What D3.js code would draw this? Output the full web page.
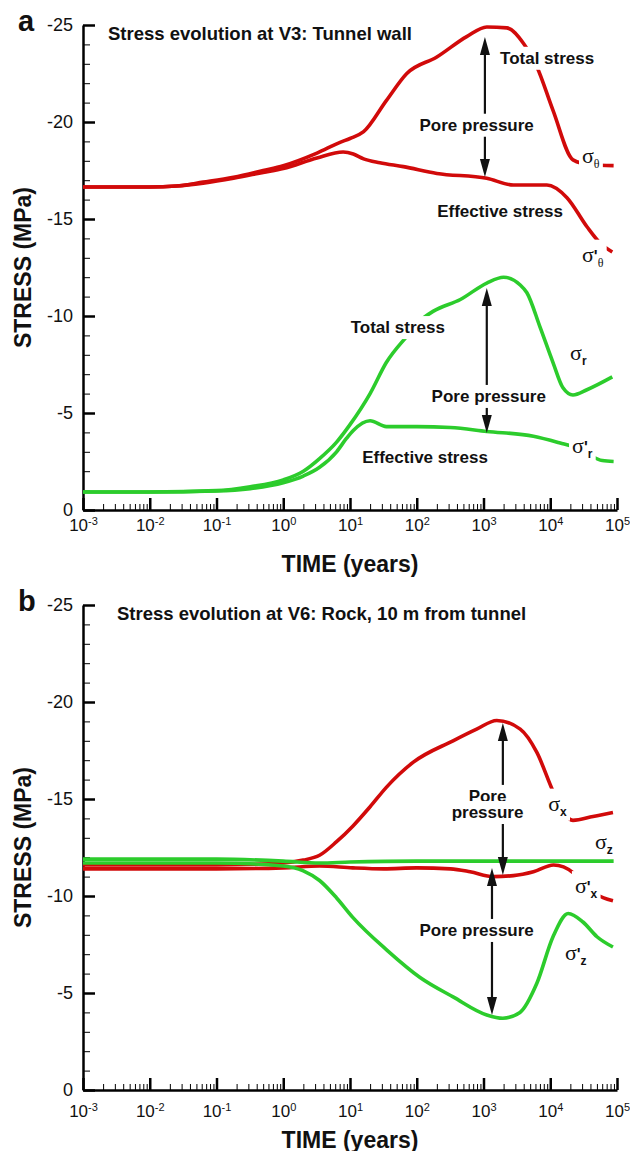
<!DOCTYPE html>
<html lang="en">
<head>
<meta charset="UTF-8">
<title>Stress evolution at V3 and V6</title>
<script src="https://cdn.jsdelivr.net/npm/d3@7"></script>
<style>
  body { margin: 0; background: #fff; }
  svg { font-family: Arial, "Liberation Sans", sans-serif; }
  .curve { fill: none; stroke-width: 3.6; stroke-linejoin: round; }
  .lbl { font-weight: bold; font-size: 17px; fill: #111; }
  .axis-title { font-weight: bold; font-size: 23px; fill: #111; }
  .plot-title { font-weight: bold; font-size: 18.5px; fill: #111; }
  .panel-letter { font-weight: bold; font-size: 29px; fill: #111; }
</style>
</head>
<body>
<svg id="chart" width="630" height="1151"></svg>
<script>
// ---- data (time in years, stress in MPa; compression negative) ----
const decades = [1e-3, 1e-2, 1e-1, 1e0, 1e1, 1e2, 1e3, 1e4, 1e5];
const yMajor = [0, -5, -10, -15, -20, -25];

// panel a: V3, tunnel wall
const tThetaTot = [0.001, 0.01, 0.025, 0.063, 0.18, 0.5, 1, 3.2, 7.1, 10, 16, 35, 71, 200, 560, 1120, 2240, 3980, 6300, 11000, 21900, 39800, 89000];
const thetaTot  = [-16.65, -16.65, -16.7, -16.9, -17.15, -17.5, -17.75, -18.4, -18.95, -19.15, -19.5, -21.1, -22.5, -23.35, -24.4, -24.9, -24.85, -24.05, -22.85, -20.6, -18.05, -17.8, -17.75];
const tThetaEff = [0.001, 0.01, 0.025, 0.063, 0.18, 0.5, 1, 3.2, 7.9, 11.2, 16, 28, 63, 200, 1120, 2800, 8900, 17800, 35500, 56200, 85000];
const thetaEff  = [-16.65, -16.65, -16.7, -16.85, -17.1, -17.4, -17.6, -18.15, -18.45, -18.35, -18.1, -17.9, -17.7, -17.35, -17.1, -16.75, -16.75, -16.1, -14.6, -13.75, -13.3];
const tRadTot = [0.001, 0.01, 0.1, 0.32, 1, 2, 3.5, 6.3, 10, 20, 35, 71, 112, 178, 450, 1120, 2000, 3550, 4470, 7080, 11000, 15500, 21900, 35500, 85000];
const radTot  = [-0.93, -0.93, -1.0, -1.2, -1.55, -2.0, -2.65, -3.5, -4.4, -6.0, -7.6, -8.95, -9.75, -10.25, -10.85, -11.7, -12.0, -11.6, -11.2, -9.4, -7.6, -6.3, -5.93, -6.2, -6.86];
const tRadEff = [0.001, 0.01, 0.1, 0.32, 1, 2, 3.5, 6.3, 8.9, 11.2, 20, 35, 100, 320, 1120, 5600, 14100, 22400, 35500, 60300, 89000];
const radEff  = [-0.93, -0.93, -0.98, -1.1, -1.4, -1.75, -2.2, -3.0, -3.7, -4.1, -4.6, -4.3, -4.3, -4.25, -4.05, -3.8, -3.45, -3.25, -2.9, -2.55, -2.5];

// panel b: V6, rock 10 m from tunnel
const tXTot = [0.001, 0.01, 0.1, 1, 2, 3.5, 6.3, 11, 20, 35, 89, 350, 790, 1580, 3550, 6300, 11000, 15800, 21900, 43700, 87000];
const xTot  = [-11.6, -11.6, -11.6, -11.7, -11.85, -12.1, -12.8, -13.6, -14.6, -15.6, -16.9, -18.0, -18.6, -19.05, -18.6, -17.4, -15.4, -14.3, -13.9, -14.1, -14.3];
const tXEff = [0.001, 0.1, 1, 3.5, 11, 32, 100, 320, 630, 1410, 2800, 5600, 11200, 15800, 21900, 35500, 63100, 87000];
const xEff  = [-11.4, -11.4, -11.45, -11.55, -11.45, -11.4, -11.45, -11.4, -11.25, -11.0, -11.05, -11.25, -11.6, -11.5, -11.2, -10.4, -9.9, -9.75];
const tZTot = [0.001, 0.1, 1, 3.5, 10, 100, 1000, 10000, 89000];
const zTot  = [-11.9, -11.9, -11.8, -11.7, -11.75, -11.8, -11.8, -11.8, -11.8];
const tZEff = [0.001, 0.1, 1, 2, 3.5, 6.3, 11, 36, 112, 350, 1120, 1950, 3520, 6300, 11000, 18600, 30900, 50100, 87000];
const zEff  = [-11.7, -11.7, -11.55, -11.3, -10.8, -9.9, -8.9, -7.2, -5.8, -4.8, -3.87, -3.7, -4.0, -5.5, -7.9, -9.1, -8.66, -7.9, -7.37];

// pore pressure arrows: time, upper stress, lower stress
const arrowTimeA = [1050, 1120];
const arrowTopA = [-24.38, -11.44];
const arrowBotA = [-17.16, -3.97];
const arrowTimeB = [1950, 1340];
const arrowTopB = [-18.92, -11.44];
const arrowBotB = [-11.08, -3.87];

const red = "#d10a0a", green = "#2ccc2c";

const svg = d3.select("#chart");
const x = d3.scaleLog().domain([1e-3, 1e5]).range([83, 617]);

function panel(cfg) {
  const y = d3.scaleLinear().domain([0, -25]).range([cfg.bottom, cfg.top]);
  const g = svg.append("g");

  // minor ticks
  const minorY = d3.range(0, -26, -1).filter(v => v % 5 !== 0);
  g.append("g").attr("transform", "translate(83,0)")
    .call(d3.axisLeft(y).tickValues(minorY).tickSize(-7).tickFormat(""))
    .call(s => s.select(".domain").remove())
    .selectAll("line").attr("stroke-width", 1);
  const minorX = [];
  decades.slice(0, -1).forEach(d => { for (let k = 2; k <= 9; k++) minorX.push(d * k); });
  g.append("g").attr("transform", `translate(0,${cfg.bottom})`)
    .call(d3.axisBottom(x).tickValues(minorX).tickSize(-6).tickFormat(""))
    .call(s => s.select(".domain").remove())
    .selectAll("line").attr("stroke-width", 1);

  // major axes
  const gy = g.append("g").attr("transform", "translate(83,0)")
    .call(d3.axisLeft(y).tickValues(yMajor).tickSize(-12).tickSizeOuter(0).tickPadding(10)
      .tickFormat(d => String(d)));
  gy.selectAll("line").attr("stroke-width", 2.5);
  gy.select(".domain").attr("stroke-width", 2.5);
  gy.selectAll("text").attr("font-size", 18).attr("font-family", "Arial, 'Liberation Sans', sans-serif").attr("fill", "#111");

  const gx = g.append("g").attr("transform", `translate(0,${cfg.bottom})`)
    .call(d3.axisBottom(x).tickValues(decades).tickSize(-12).tickSizeOuter(0).tickPadding(cfg.xPad));
  gx.selectAll("line").attr("stroke-width", 2.5);
  gx.select(".domain").attr("stroke-width", 2.5);
  gx.selectAll(".tick text").each(function(d) {
    const t = d3.select(this).text(null)
      .attr("font-size", 17).attr("font-family", "Arial, 'Liberation Sans', sans-serif").attr("fill", "#111");
    t.append("tspan").text("10");
    t.append("tspan").attr("dy", -6).attr("font-size", 11).text(String(Math.round(Math.log10(d))));
  });

  // titles
  g.append("text").attr("class", "axis-title")
    .attr("transform", `translate(31,${(cfg.top + cfg.bottom) / 2}) rotate(-90)`)
    .attr("text-anchor", "middle").text("STRESS (MPa)");
  g.append("text").attr("class", "axis-title")
    .attr("x", (x.range()[0] + x.range()[1]) / 2).attr("y", cfg.bottom + cfg.titleGap)
    .attr("text-anchor", "middle").text("TIME (years)");
  g.append("text").attr("class", "panel-letter").attr("x", 18).attr("y", cfg.top + 6).text(cfg.letter);
  g.append("text").attr("class", "plot-title").attr("x", cfg.titleX).attr("y", cfg.top + 15).text(cfg.title);

  // curves
  const line = d3.line().x(d => x(d[0])).y(d => y(d[1])).curve(d3.curveMonotoneX);
  cfg.series.forEach(s => {
    g.append("path").attr("class", "curve").attr("stroke", s.color)
      .attr("d", line(d3.zip(s.t, s.v)));
  });

  // arrows
  cfg.arrows.t.forEach((t, i) => {
    const ax = x(t), y1 = y(cfg.arrows.top[i]), y2 = y(cfg.arrows.bot[i]);
    g.append("line").attr("x1", ax).attr("x2", ax).attr("y1", y1 + 14).attr("y2", y2 - 14)
      .attr("stroke", "#111").attr("stroke-width", 2.2);
    g.append("path").attr("fill", "#111")
      .attr("d", `M${ax},${y1}L${ax - 5},${y1 + 18}L${ax + 5},${y1 + 18}Z`);
    g.append("path").attr("fill", "#111")
      .attr("d", `M${ax},${y2}L${ax - 5},${y2 - 18}L${ax + 5},${y2 - 18}Z`);
  });

  // labels with white box (hides lines behind them)
  function boxed(sel, pad) {
    const b = sel.node().getBBox();
    g.insert("rect", () => sel.node())
      .attr("x", b.x - pad).attr("y", b.y - pad + 1)
      .attr("width", b.width + 2 * pad).attr("height", b.height + 2 * pad - 2)
      .attr("fill", "#fff");
  }
  cfg.labels.forEach(l => {
    const t = g.append("text").attr("class", "lbl")
      .attr("x", x(l.t)).attr("y", y(l.v)).attr("text-anchor", l.anchor || "middle").text(l.text);
    boxed(t, 3);
  });
  cfg.sigmas.forEach(l => {
    const t = g.append("text").attr("x", x(l.t)).attr("y", y(l.v)).attr("fill", "#111");
    t.append("tspan").attr("font-family", "'Liberation Serif', 'Times New Roman', serif")
      .attr("font-size", 22).text("σ");
    if (l.prime) t.append("tspan").attr("font-weight", "bold").attr("font-size", 16).text("'");
    t.append("tspan").attr("dy", 5)
      .attr("font-family", l.sub === "θ" ? "'Liberation Serif', serif" : "Arial, 'Liberation Sans', sans-serif")
      .attr("font-weight", l.sub === "θ" ? "normal" : "bold")
      .attr("font-size", 12).text(l.sub);
    boxed(t, l.pad === undefined ? 3 : l.pad);
  });
}

panel({
  letter: "a", top: 25, bottom: 510, xPad: 9, titleGap: 62, titleX: 108,
  title: "Stress evolution at V3: Tunnel wall",
  series: [
    { t: tThetaTot, v: thetaTot, color: red },
    { t: tThetaEff, v: thetaEff, color: red },
    { t: tRadEff, v: radEff, color: green },
    { t: tRadTot, v: radTot, color: green }
  ],
  arrows: { t: arrowTimeA, top: arrowTopA, bot: arrowBotA },
  labels: [
    { text: "Total stress", t: 1770, v: -23.0, anchor: "start" },
    { text: "Pore pressure", t: 790, v: -19.55 },
    { text: "Effective stress", t: 1770, v: -15.1 },
    { text: "Total stress", t: 52, v: -9.12 },
    { text: "Pore pressure", t: 1200, v: -5.57 },
    { text: "Effective stress", t: 133, v: -2.42 }
  ],
  sigmas: [
    { sub: "θ", t: 29900, v: -17.9 },
    { sub: "θ", prime: true, t: 29900, v: -12.8 },
    { sub: "r", t: 19800, v: -7.73 },
    { sub: "r", prime: true, t: 21200, v: -2.94 }
  ]
});

panel({
  letter: "b", top: 605, bottom: 1090, xPad: 15, titleGap: 58, titleX: 117,
  title: "Stress evolution at V6: Rock, 10 m from tunnel",
  series: [
    { t: tXEff, v: xEff, color: red },
    { t: tXTot, v: xTot, color: red },
    { t: tZEff, v: zEff, color: green },
    { t: tZTot, v: zTot, color: green }
  ],
  arrows: { t: arrowTimeB, top: arrowTopB, bot: arrowBotB },
  labels: [
    { text: "Pore", t: 1150, v: -14.85 },
    { text: "pressure", t: 1150, v: -14.02 },
    { text: "Pore pressure", t: 790, v: -7.94 }
  ],
  sigmas: [
    { sub: "x", t: 9300, v: -14.4 },
    { sub: "z", t: 46800, v: -12.4, pad: 0 },
    { sub: "x", prime: true, t: 23400, v: -10.15 },
    { sub: "z", prime: true, t: 16600, v: -6.7 }
  ]
});
</script>
</body>
</html>
